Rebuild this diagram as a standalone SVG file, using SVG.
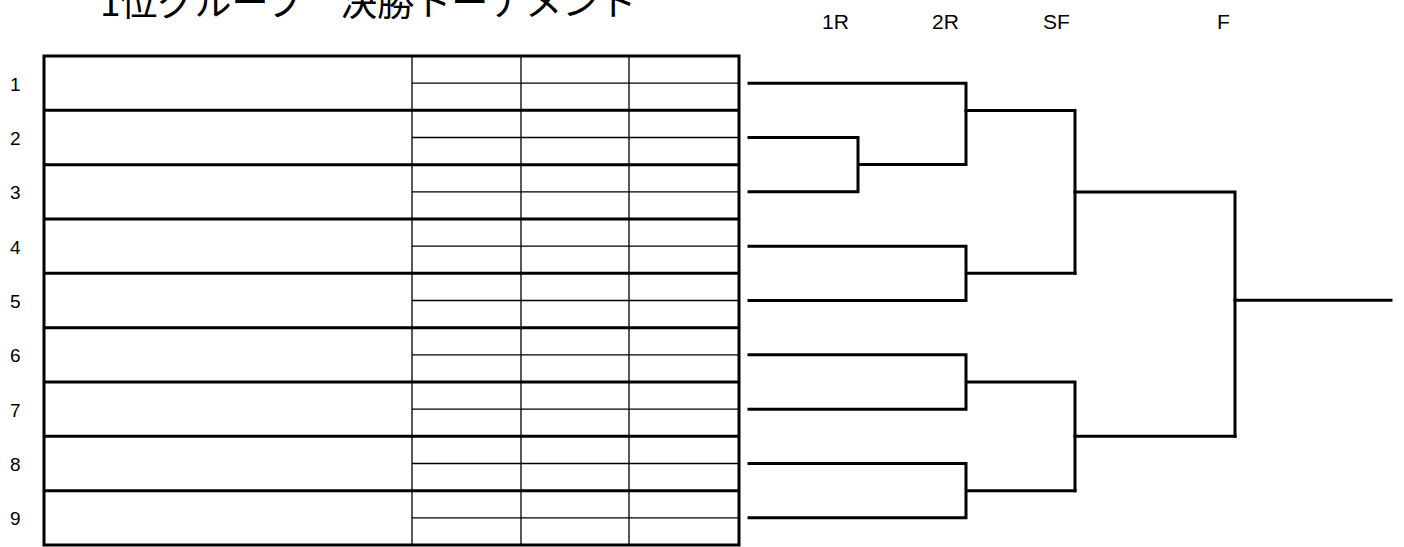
<svg xmlns="http://www.w3.org/2000/svg" width="1404" height="547" viewBox="0 0 1404 547">
<style>
.thick{stroke:#000;stroke-width:3;fill:none}
.thin{stroke:#000;stroke-width:1.3;fill:none}
.br{stroke:#000;stroke-width:3;fill:none;stroke-linecap:square}
.num{font-family:"Liberation Sans","Noto Sans CJK JP",sans-serif;font-size:19px;fill:#000}
.rl{font-family:"Liberation Sans","Noto Sans CJK JP",sans-serif;font-size:21px;fill:#000}
.title{font-family:"Noto Sans CJK JP",sans-serif;font-size:37px;fill:#000}
</style>
<rect width="1404" height="547" fill="#fff"/>
<g id="title"><text class="title" x="100" y="16">1位グループ　決勝トーナメント</text></g>
<g id="round-labels">
<text class="rl" x="822" y="29">1R</text>
<text class="rl" x="932" y="29">2R</text>
<text class="rl" x="1043" y="29">SF</text>
<text class="rl" x="1217" y="29">F</text>
</g>
<g id="table">
<path class="thin" d="M412,56V545M521,56V545M629,56V545"/>
<path class="thin" d="M412,83.2H739M412,137.5H739M412,191.8H739M412,246.2H739M412,300.5H739M412,354.8H739M412,409.2H739M412,463.5H739M412,517.8H739"/>
<path class="thick" d="M44,110.3H739M44,164.7H739M44,219H739M44,273.3H739M44,327.7H739M44,382H739M44,436.3H739M44,490.7H739"/>
<rect class="thick" x="44" y="56" width="695" height="489"/>
</g>
<g id="row-numbers">
<text class="num" x="10" y="91">1</text>
<text class="num" x="10" y="145">2</text>
<text class="num" x="10" y="199">3</text>
<text class="num" x="10" y="254">4</text>
<text class="num" x="10" y="308">5</text>
<text class="num" x="10" y="362">6</text>
<text class="num" x="10" y="417">7</text>
<text class="num" x="10" y="471">8</text>
<text class="num" x="10" y="525">9</text>
</g>
<g id="connectors">
<path class="br" d="M749,83.2H966V164.5M749,137.5H858V191.8H749M858,164.5H966"/>
<path class="br" d="M966,110.5H1075V273.3"/>
<path class="br" d="M749,246.2H966V300.5H749M966,273.3H1075"/>
<path class="br" d="M1075,192H1235V436.3"/>
<path class="br" d="M749,354.8H966V409.2H749M966,382H1075V490.7"/>
<path class="br" d="M749,463.5H966V517.8H749M966,490.7H1075"/>
<path class="br" d="M1075,436.3H1235M1235,300.3H1391"/>
</g>
</svg>
